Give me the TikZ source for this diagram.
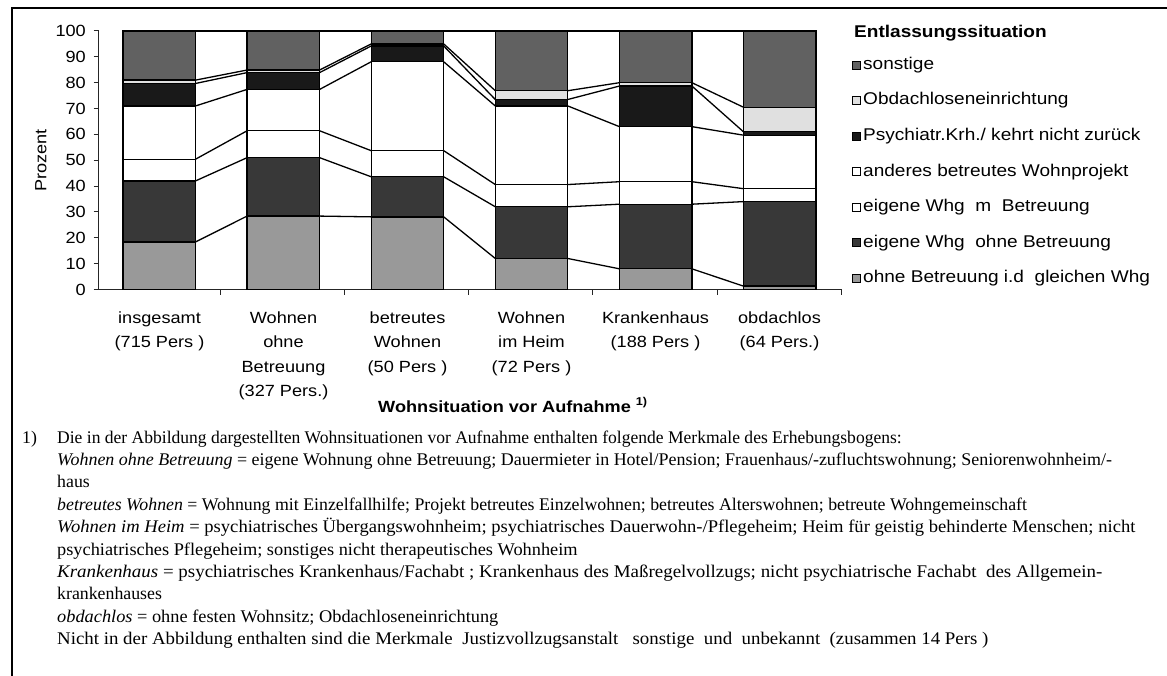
\documentclass[tikz,border=0pt]{standalone}
\usepackage{fontspec}
\setmainfont{Liberation Serif}
\newfontfamily\chartfont[FakeStretch=1.12]{Liberation Sans}
\newfontfamily\notefont{Liberation Serif}
\colorlet{col0}{black!40}
\colorlet{col1}{black!78}
\colorlet{col2}{white}
\colorlet{col3}{white}
\colorlet{col4}{black!90}
\colorlet{col5}{black!12}
\colorlet{col6}{black!62}
\begin{document}
\begin{tikzpicture}[x=1pt,y=-1pt,
  ctext/.style={font=\chartfont\fontsize{16.2}{24.4}\selectfont, inner sep=0pt},
  ltext/.style={font=\chartfont\fontsize{17}{20}\selectfont, inner sep=0pt, anchor=west},
  cbold/.style={font=\chartfont\bfseries\fontsize{16.2}{20}\selectfont, inner sep=0pt},
  ntext/.style={font=\notefont\fontsize{17.8}{20}\selectfont, inner sep=0pt, anchor=base west},
  seg/.style={draw=black, line width=1.3pt},
  conn/.style={draw=black, line width=1.3pt},
  axisline/.style={draw=black!85, line width=1pt},
  legbox/.style={draw=black, line width=0.8pt, minimum size=8pt, inner sep=0pt},
  frame/.style={draw=black, line width=1.8pt},
]
\useasboundingbox (0,0) rectangle (1167,676);
% outer frame (left and top)
\draw[frame] (12,676) -- (12,8) -- (1167,8);

% data: per bar 8 cumulative levels (0 ... 100)
\def\D{{0,18.4,42,50.4,71,79.7,81,100,
        0,28.4,51,61.4,77.4,83.9,84.9,100,
        0,28.1,43.6,53.7,88.1,94.2,95,100,
        0,12,32,40.6,71,73.5,76.9,100,
        0,8,33,41.7,63,78.7,80,100,
        0,1.3,34,39,59.7,61,70.5,100}}

\begin{scope}[shift={(0,289.5)}, y={(0pt,2.585pt)}]
  % axes
  \draw[axisline] (98.5,100) -- (98.5,0) -- (841.2,0);
  \foreach \v in {0,10,...,100}{
    \draw[axisline] (93.5,\v) -- (98.5,\v);
    \node[ctext, anchor=east] (yl\v) at (86,\v) {\v};
  }
  \foreach \t in {1,...,6}{
    \pgfmathsetmacro\tx{96+124.2*\t}
    \draw[axisline] (\tx,0) -- (\tx,-2);
  }
  % bars
  \foreach \i in {0,...,5}{
    \pgfmathsetmacro\xl{123+124.1*\i}
    \pgfmathsetmacro\xr{\xl+72.5}
    \foreach \k in {0,...,6}{
      \pgfmathsetmacro\lo{\D[8*\i+\k]}
      \pgfmathsetmacro\hi{\D[8*\i+\k+1]}
      \draw[seg, fill=col\k] (\xl,\lo) rectangle (\xr,\hi);
    }
  }
  % connectors between bars
  \foreach \i in {0,...,4}{
    \pgfmathsetmacro\xr{123+124.1*\i+72.5}
    \pgfmathsetmacro\xn{123+124.1*(\i+1)}
    \foreach \k in {1,...,7}{
      \pgfmathsetmacro\a{\D[8*\i+\k]}
      \pgfmathsetmacro\b{\D[8*(\i+1)+\k]}
      \draw[conn] (\xr,\a) -- (\xn,\b);
    }
  }
  \node[ctext, rotate=90] (ylab) at (41,50) {Prozent};
\end{scope}

% category labels
\node[ctext, anchor=north, align=center] (c1) at (159.5,311.5) {\vphantom{Wh}insgesamt\\(715 Pers )};
\node[ctext, anchor=north, align=center] (c2) at (283.5,311.5) {\vphantom{Wh}Wohnen\\ohne\\Betreuung\\(327 Pers.)};
\node[ctext, anchor=north, align=center] (c3) at (407.5,311.5) {\vphantom{Wh}betreutes\\Wohnen\\(50 Pers )};
\node[ctext, anchor=north, align=center] (c4) at (531.5,311.5) {\vphantom{Wh}Wohnen\\im Heim\\(72 Pers )};
\node[ctext, anchor=north, align=center] (c5) at (655.5,311.5) {\vphantom{Wh}Krankenhaus\\(188 Pers )};
\node[ctext, anchor=north, align=center] (c6) at (779.5,311.5) {\vphantom{Wh}obdachlos\\(64 Pers.)};
\node[cbold, anchor=base west] (xlab) at (378,412) {Wohnsituation vor Aufnahme \textsuperscript{1)}};

% legend
\node[cbold, anchor=west, font=\chartfont\bfseries\fontsize{17}{20}\selectfont] (legt) at (854,33) {Entlassungssituation};
\foreach \k/\t [count=\n] in {6/{sonstige}, 5/{Obdachloseneinrichtung}, 4/{Psychiatr.Krh./ kehrt nicht zurück}, 3/{anderes betreutes Wohnprojekt}, 2/{eigene Whg\ \ m\ \ Betreuung}, 1/{eigene Whg\ \ ohne Betreuung}, 0/{ohne Betreuung i.d\ \ gleichen Whg}}{
  \pgfmathsetmacro\ly{65+35.55*(\n-1)}
  \node[legbox, fill=col\k] (lb\k) at (856,\ly) {};
  \node[ltext] (lt\k) at (863,\ly) {\t};
}

% footnote
\node[ntext, anchor=base west] (fnum) at (22,443) {1)};
\node[ntext] (f1) at (57,443) {\scalebox{0.985}[1]{Die in der Abbildung dargestellten Wohnsituationen vor Aufnahme enthalten folgende Merkmale des Erhebungsbogens:}};
\node[ntext] (f2) at (57,465.4) {\scalebox{1.01}[1]{\textit{Wohnen ohne Betreuung} = eigene Wohnung ohne Betreuung; Dauermieter in Hotel/Pension; Frauenhaus/-zufluchtswohnung; Seniorenwohnheim/-}};
\node[ntext] (f3) at (57,487.8) {haus};
\node[ntext] (f4) at (57,510.2) {\textit{betreutes Wohnen} = Wohnung mit Einzelfallhilfe; Projekt betreutes Einzelwohnen; betreutes Alterswohnen; betreute Wohngemeinschaft};
\node[ntext] (f5) at (57,532.6) {\scalebox{1.045}[1]{\textit{Wohnen im Heim} = psychiatrisches Übergangswohnheim; psychiatrisches Dauerwohn-/Pflegeheim; Heim für geistig behinderte Menschen; nicht}};
\node[ntext] (f6) at (57,555) {\scalebox{1.03}[1]{psychiatrisches Pflegeheim; sonstiges nicht therapeutisches Wohnheim}};
\node[ntext] (f7) at (57,577.4) {\scalebox{1.065}[1]{\textit{Krankenhaus} = psychiatrisches Krankenhaus/Fachabt ; Krankenhaus des Maßregelvollzugs; nicht psychiatrische Fachabt\ \ des Allgemein-}};
\node[ntext] (f8) at (57,599.8) {krankenhauses};
\node[ntext] (f9) at (57,622.2) {\scalebox{1.03}[1]{\textit{obdachlos} = ohne festen Wohnsitz; Obdachloseneinrichtung}};
\node[ntext] (f10) at (57,644.6) {\scalebox{1.06}[1]{Nicht in der Abbildung enthalten sind die Merkmale\ \ Justizvollzugsanstalt\ \ \ sonstige\ \ und\ \ unbekannt\ \ (zusammen 14 Pers )}};
\end{tikzpicture}
\end{document}
